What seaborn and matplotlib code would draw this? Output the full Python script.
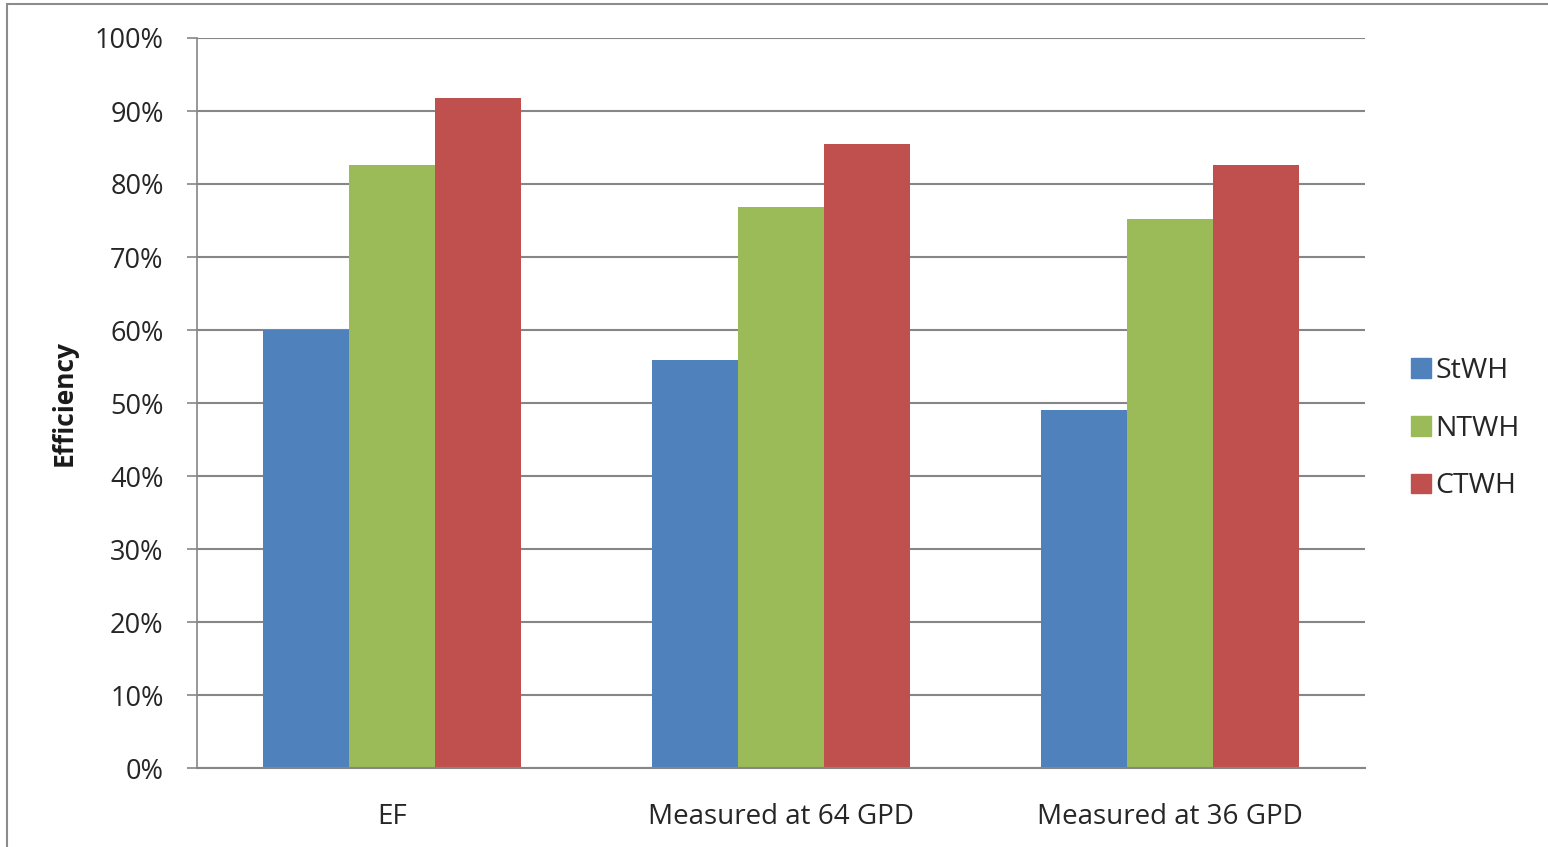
import matplotlib
matplotlib.use("Agg")
import matplotlib.pyplot as plt
import matplotlib.patches as mpatches
import seaborn as sns
import pandas as pd
from matplotlib.ticker import PercentFormatter

categories = ["EF", "Measured at 64 GPD", "Measured at 36 GPD"]
series = ["StWH", "NTWH", "CTWH"]
stwh = [0.600, 0.559, 0.490]
ntwh = [0.826, 0.768, 0.752]
ctwh = [0.918, 0.855, 0.826]
colors = ["#4F81BD", "#9BBB59", "#C0504D"]

df = pd.DataFrame({
    "category": categories * 3,
    "series": [s for s in series for _ in categories],
    "value": stwh + ntwh + ctwh,
})

sns.set_theme(style="white")
plt.rcParams["font.family"] = ["Open Sans", "DejaVu Sans"]

fig = plt.figure(figsize=(15.48, 8.47), dpi=100)
ax = fig.add_axes([197 / 1548, 1 - 768 / 847, (1365 - 197) / 1548, (768 - 38) / 847])

sns.barplot(data=df, x="category", y="value", hue="series", order=categories,
            hue_order=series, palette=colors, width=0.663, saturation=1,
            linewidth=0, ax=ax, legend=True)

ax.set_ylim(0, 1.0)
ax.set_yticks([i / 10 for i in range(11)])
ax.yaxis.set_major_formatter(PercentFormatter(1.0, decimals=0))
ax.grid(axis="y", color="#868686", linewidth=1.5)
ax.set_axisbelow(True)

for side in ("top", "right"):
    ax.spines[side].set_visible(False)
ax.spines["left"].set_color("#868686")
ax.spines["bottom"].set_color("#868686")
ax.spines["left"].set_linewidth(1.2)
ax.spines["bottom"].set_linewidth(1.5)

ax.tick_params(axis="y", which="major", left=True, length=7, width=1.2,
               color="#868686", labelsize=19.5, labelcolor="#262626", pad=17)
ax.tick_params(axis="x", bottom=False, labelsize=20, labelcolor="#262626", pad=19)

ax.set_xlabel("")
ax.set_ylabel("Efficiency", fontsize=19, fontweight="bold", color="#1a1a1a", labelpad=12)

handles = [mpatches.Patch(color=c, label=s) for c, s in zip(colors, series)]
ax.legend(handles=handles, loc="center left", bbox_to_anchor=(0.0294 + 1, 0.465),
          borderaxespad=0, frameon=False, fontsize=20.5, handlelength=0.7,
          handleheight=0.7, handletextpad=0.17, labelspacing=1.05,
          labelcolor="#262626")

# outer chart frame
fig.patches.append(mpatches.Rectangle((7 / 1548, -0.05), 1.2, 1 - 4 / 847 + 0.05,
                                      transform=fig.transFigure, fill=False,
                                      edgecolor="#8c8c8c", linewidth=1.5))

fig.savefig("out.png", dpi=100, facecolor="white")
